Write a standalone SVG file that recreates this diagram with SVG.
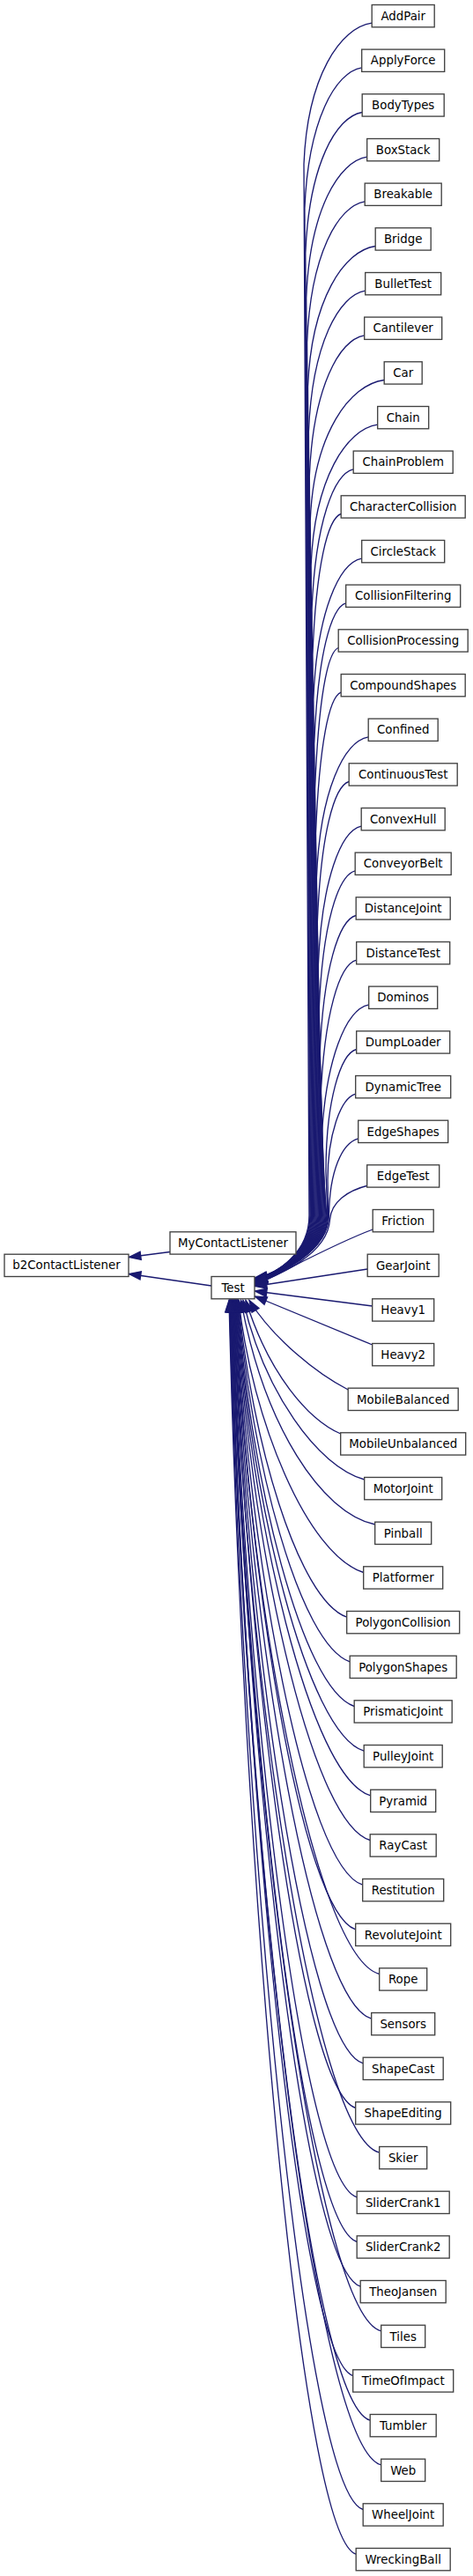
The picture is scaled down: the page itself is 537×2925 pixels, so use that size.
<svg xmlns="http://www.w3.org/2000/svg" width="537" height="2925" viewBox="0 0 537 2925">
<style>
.node rect{fill:#fff;stroke:#404040;stroke-width:1.33}
.node text{font-family:"DejaVu Sans","Liberation Sans",sans-serif;font-size:13.33px;text-anchor:middle;fill:#000}
.edges path{fill:none;stroke:#191970;stroke-width:1.33;marker-end:url(#arr)}
</style>
<defs>
<marker id="arr" markerUnits="userSpaceOnUse" markerWidth="16" markerHeight="12" refX="13.3" refY="4.65" orient="auto" overflow="visible"><path d="M0,0 L13.3,4.65 L0,9.3 Z" fill="#191970" stroke="#191970" stroke-width="1.33"/></marker>
</defs>
<rect width="537" height="2925" fill="#fff"/>
<g id="connectors" class="edges">
<path d="M193,1421.5 L146.5,1427.5"/>
<path d="M240,1460 L146.5,1446.5"/>
<path d="M422.2,26.2 C386.6,31.2 349,86.2 345,186.2 L351,1380 C351,1422 315,1447 289.5,1451"/>
<path d="M410.7,76.8 C380.6,81.8 349.9,136.8 345.9,236.8 L351.9,1380 C351.9,1422 315,1447 289.5,1451.3"/>
<path d="M411.2,127.5 C381.3,132.5 350.8,187.5 346.8,287.5 L352.8,1380 C352.8,1422 315,1447 289.5,1451.6"/>
<path d="M416.7,178.2 C384.7,183.2 351.7,238.2 347.7,338.2 L353.7,1380 C353.7,1422 315,1447 289.5,1451.8"/>
<path d="M414.2,228.8 C383.8,233.8 352.6,288.8 348.6,388.8 L354.6,1380 C354.6,1422 315,1447 289.5,1452.1"/>
<path d="M426.2,279.5 C390.8,284.5 353.5,339.5 349.5,439.5 L355.5,1380 C355.5,1422 315,1447 289.5,1452.4"/>
<path d="M414.7,330.2 C384.9,335.2 354.4,390.2 350.4,490.2 L356.4,1380 C356.4,1422 315,1447 289.5,1452.7"/>
<path d="M413.7,380.8 C384.7,385.8 355.3,440.8 351.3,540.8 L357.3,1380 C357.3,1422 315,1447 289.5,1453"/>
<path d="M436.2,431.5 C397.5,436.5 356.2,491.5 352.2,591.5 L358.2,1380 C358.2,1422 315,1447 289.5,1453.2"/>
<path d="M428.7,482.2 C393.8,487.2 357.1,542.2 353.1,642.2 L359.1,1380 C359.1,1422 315,1447 289.5,1453.5"/>
<path d="M401.2,532.8 C379.1,537.8 358,592.8 354,692.8 L360,1380 C360,1422 315,1447 289.5,1453.8"/>
<path d="M387.2,583.5 C371.8,588.5 358.9,643.5 354.9,743.5 L360.9,1380 C360.9,1422 315,1447 289.5,1454.1"/>
<path d="M410.7,634.2 C385.1,639.2 359.8,694.2 355.8,794.2 L361.8,1380 C361.8,1422 315,1447 289.5,1454.4"/>
<path d="M392.7,684.8 C375.6,689.8 360.7,744.8 356.7,844.8 L362.7,1380 C362.7,1422 315,1447 289.5,1454.6"/>
<path d="M384.2,735.5 C371.3,740.5 361.6,795.5 357.6,895.5 L363.6,1380 C363.6,1422 315,1447 289.5,1454.9"/>
<path d="M387.2,786.2 C373.4,791.2 362.5,846.2 358.5,946.2 L364.5,1380 C364.5,1422 315,1447 289.5,1455.2"/>
<path d="M418.2,836.8 C390.8,841.8 363.4,896.8 359.4,996.8 L365.4,1380 C365.4,1422 315,1447 289.5,1455.5"/>
<path d="M396.2,887.5 C379.1,892.5 364.3,947.5 360.3,1047.5 L366.3,1380 C366.3,1422 315,1447 289.5,1455.8"/>
<path d="M410.2,938.2 C387.2,943.2 365.2,998.2 361.2,1098.2 L367.2,1380 C367.2,1422 315,1447 289.5,1456"/>
<path d="M403.2,988.8 C383.8,993.8 366.1,1048.8 362.1,1148.8 L368.1,1380 C368.1,1422 315,1447 289.5,1456.3"/>
<path d="M404.2,1039.5 C384.8,1044.5 367,1099.5 363,1199.5 L369,1380 C369,1422 315,1447 289.5,1456.6"/>
<path d="M404.7,1090.2 C385.4,1095.2 367.9,1150.2 363.9,1250.2 L369.9,1380 C369.9,1422 315,1447 289.5,1456.9"/>
<path d="M418.7,1140.8 C393.5,1145.8 368.8,1200.8 364.8,1300.8 L370.8,1380 C370.8,1422 315,1447 289.5,1457.2"/>
<path d="M404.7,1191.5 C386.2,1196.5 370,1251.5 370,1330 L371.7,1380 C371.7,1422 315,1447 289.5,1457.4"/>
<path d="M403.7,1242.2 C386.1,1247.2 372,1290 372,1340 L372.6,1380 C372.6,1422 315,1447 289.5,1457.7"/>
<path d="M406.7,1292.9 C388.2,1297.9 374,1330 373.5,1380 C373.5,1422 315,1447 289.5,1458"/>
<path d="M418,1346 C394,1352 376,1365 374.5,1385 C372,1425 315,1448 289.5,1458.5"/>
<path d="M423.2,1396 C380,1412 330,1440 289.5,1459.3"/>
<path d="M417.2,1441 L289.5,1460.5"/>
<path d="M422.7,1483 L289.5,1466"/>
<path d="M422.7,1527 L289.5,1472"/>
<path d="M395.2,1578 C360,1560 310,1520 283,1476.5"/>
<path d="M386.7,1628 C350,1612 305,1560 279,1476.5"/>
<path d="M413.7,1680 C360,1665 300,1580 276,1476.5"/>
<path d="M425.7,1731 C365,1718 300,1620 273.5,1476.5"/>
<path d="M412.7,1785.5 C348.9,1765.5 286,1612.5 271,1476.5"/>
<path d="M393.7,1836.2 C338.3,1816.2 285.5,1634.8 270.5,1476.5"/>
<path d="M397.2,1886.9 C340,1866.9 285,1657.1 270,1476.5"/>
<path d="M402.2,1937.5 C342.5,1917.5 284.5,1679.3 269.5,1476.5"/>
<path d="M413.2,1988.2 C348.3,1968.2 284,1701.6 269,1476.5"/>
<path d="M420.7,2038.9 C352.2,2018.9 283.5,1724 268.5,1476.5"/>
<path d="M420.2,2089.5 C351.7,2069.5 283,1746.2 268,1476.5"/>
<path d="M411.7,2140.2 C346.8,2120.2 282.5,1768.5 267.5,1476.5"/>
<path d="M403.7,2190.9 C342.2,2170.9 282,1790.8 267,1476.5"/>
<path d="M430.7,2241.5 C356.8,2221.5 281.5,1813.1 266.5,1476.5"/>
<path d="M421.7,2292.2 C351.6,2272.2 281,1835.4 266,1476.5"/>
<path d="M412.2,2342.9 C346.2,2322.9 280.5,1857.7 265.5,1476.5"/>
<path d="M403.7,2393.5 C341.3,2373.5 280,1880 265,1476.5"/>
<path d="M430.7,2444.2 C355.9,2424.2 279.5,1902.3 264.5,1476.5"/>
<path d="M405.2,2494.9 C341.7,2474.9 279,1924.6 264,1476.5"/>
<path d="M405.2,2545.5 C341.4,2525.5 278.5,1946.9 263.5,1476.5"/>
<path d="M409.2,2596.2 C343.4,2576.2 278,1969.2 263,1476.5"/>
<path d="M432.7,2646.9 C356.1,2626.9 277.5,1991.5 262.5,1476.5"/>
<path d="M400.7,2697.5 C338.3,2677.5 277,2013.7 262,1476.5"/>
<path d="M420.2,2748.2 C348.8,2728.2 276.5,2036 261.5,1476.5"/>
<path d="M432.7,2798.9 C355.4,2778.9 276,2058.4 261,1476.5"/>
<path d="M412.2,2849.5 C343.9,2829.5 275.5,2080.6 260.5,1476.5"/>
<path d="M404.2,2900.2 C339.3,2880.2 275,2102.9 260,1476.5"/>
</g>
<g id="b2ContactListener" class="node"><rect x="5" y="1424.2" width="141" height="25.3"/><text x="75.5" y="1441.4">b2ContactListener</text></g>
<g id="MyContactListener" class="node"><rect x="193" y="1398.8" width="143" height="25.3"/><text x="264.5" y="1416.1">MyContactListener</text></g>
<g id="Test" class="node"><rect x="240" y="1449.5" width="49" height="25.3"/><text x="264.5" y="1466.8">Test</text></g>
<g id="AddPair" class="node"><rect x="422.2" y="5.5" width="71" height="25.3"/><text x="457.7" y="22.8">AddPair</text></g>
<g id="ApplyForce" class="node"><rect x="410.7" y="56.1" width="94" height="25.3"/><text x="457.7" y="73.4">ApplyForce</text></g>
<g id="BodyTypes" class="node"><rect x="411.2" y="106.8" width="93" height="25.3"/><text x="457.7" y="124.1">BodyTypes</text></g>
<g id="BoxStack" class="node"><rect x="416.7" y="157.5" width="82" height="25.3"/><text x="457.7" y="174.8">BoxStack</text></g>
<g id="Breakable" class="node"><rect x="414.2" y="208.1" width="87" height="25.3"/><text x="457.7" y="225.4">Breakable</text></g>
<g id="Bridge" class="node"><rect x="426.2" y="258.8" width="63" height="25.3"/><text x="457.7" y="276.1">Bridge</text></g>
<g id="BulletTest" class="node"><rect x="414.7" y="309.5" width="86" height="25.3"/><text x="457.7" y="326.8">BulletTest</text></g>
<g id="Cantilever" class="node"><rect x="413.7" y="360.1" width="88" height="25.3"/><text x="457.7" y="377.4">Cantilever</text></g>
<g id="Car" class="node"><rect x="436.2" y="410.8" width="43" height="25.3"/><text x="457.7" y="428.1">Car</text></g>
<g id="Chain" class="node"><rect x="428.7" y="461.5" width="58" height="25.3"/><text x="457.7" y="478.8">Chain</text></g>
<g id="ChainProblem" class="node"><rect x="401.2" y="512.1" width="113" height="25.3"/><text x="457.7" y="529.4">ChainProblem</text></g>
<g id="CharacterCollision" class="node"><rect x="387.2" y="562.8" width="141" height="25.3"/><text x="457.7" y="580.1">CharacterCollision</text></g>
<g id="CircleStack" class="node"><rect x="410.7" y="613.5" width="94" height="25.3"/><text x="457.7" y="630.8">CircleStack</text></g>
<g id="CollisionFiltering" class="node"><rect x="392.7" y="664.1" width="130" height="25.3"/><text x="457.7" y="681.4">CollisionFiltering</text></g>
<g id="CollisionProcessing" class="node"><rect x="384.2" y="714.8" width="147" height="25.3"/><text x="457.7" y="732.1">CollisionProcessing</text></g>
<g id="CompoundShapes" class="node"><rect x="387.2" y="765.5" width="141" height="25.3"/><text x="457.7" y="782.8">CompoundShapes</text></g>
<g id="Confined" class="node"><rect x="418.2" y="816.1" width="79" height="25.3"/><text x="457.7" y="833.4">Confined</text></g>
<g id="ContinuousTest" class="node"><rect x="396.2" y="866.8" width="123" height="25.3"/><text x="457.7" y="884.1">ContinuousTest</text></g>
<g id="ConvexHull" class="node"><rect x="410.2" y="917.5" width="95" height="25.3"/><text x="457.7" y="934.8">ConvexHull</text></g>
<g id="ConveyorBelt" class="node"><rect x="403.2" y="968.1" width="109" height="25.3"/><text x="457.7" y="985.4">ConveyorBelt</text></g>
<g id="DistanceJoint" class="node"><rect x="404.2" y="1018.8" width="107" height="25.3"/><text x="457.7" y="1036.1">DistanceJoint</text></g>
<g id="DistanceTest" class="node"><rect x="404.7" y="1069.5" width="106" height="25.3"/><text x="457.7" y="1086.8">DistanceTest</text></g>
<g id="Dominos" class="node"><rect x="418.7" y="1120.1" width="78" height="25.3"/><text x="457.7" y="1137.4">Dominos</text></g>
<g id="DumpLoader" class="node"><rect x="404.7" y="1170.8" width="106" height="25.3"/><text x="457.7" y="1188.1">DumpLoader</text></g>
<g id="DynamicTree" class="node"><rect x="403.7" y="1221.5" width="108" height="25.3"/><text x="457.7" y="1238.8">DynamicTree</text></g>
<g id="EdgeShapes" class="node"><rect x="406.7" y="1272.2" width="102" height="25.3"/><text x="457.7" y="1289.5">EdgeShapes</text></g>
<g id="EdgeTest" class="node"><rect x="416.7" y="1322.8" width="82" height="25.3"/><text x="457.7" y="1340.1">EdgeTest</text></g>
<g id="Friction" class="node"><rect x="423.2" y="1373.5" width="69" height="25.3"/><text x="457.7" y="1390.8">Friction</text></g>
<g id="GearJoint" class="node"><rect x="417.2" y="1424.2" width="81" height="25.3"/><text x="457.7" y="1441.5">GearJoint</text></g>
<g id="Heavy1" class="node"><rect x="422.7" y="1474.8" width="70" height="25.3"/><text x="457.7" y="1492.1">Heavy1</text></g>
<g id="Heavy2" class="node"><rect x="422.7" y="1525.5" width="70" height="25.3"/><text x="457.7" y="1542.8">Heavy2</text></g>
<g id="MobileBalanced" class="node"><rect x="395.2" y="1576.2" width="125" height="25.3"/><text x="457.7" y="1593.5">MobileBalanced</text></g>
<g id="MobileUnbalanced" class="node"><rect x="386.7" y="1626.8" width="142" height="25.3"/><text x="457.7" y="1644.1">MobileUnbalanced</text></g>
<g id="MotorJoint" class="node"><rect x="413.7" y="1677.5" width="88" height="25.3"/><text x="457.7" y="1694.8">MotorJoint</text></g>
<g id="Pinball" class="node"><rect x="425.7" y="1728.2" width="64" height="25.3"/><text x="457.7" y="1745.5">Pinball</text></g>
<g id="Platformer" class="node"><rect x="412.7" y="1778.8" width="90" height="25.3"/><text x="457.7" y="1796.1">Platformer</text></g>
<g id="PolygonCollision" class="node"><rect x="393.7" y="1829.5" width="128" height="25.3"/><text x="457.7" y="1846.8">PolygonCollision</text></g>
<g id="PolygonShapes" class="node"><rect x="397.2" y="1880.2" width="121" height="25.3"/><text x="457.7" y="1897.5">PolygonShapes</text></g>
<g id="PrismaticJoint" class="node"><rect x="402.2" y="1930.8" width="111" height="25.3"/><text x="457.7" y="1948.1">PrismaticJoint</text></g>
<g id="PulleyJoint" class="node"><rect x="413.2" y="1981.5" width="89" height="25.3"/><text x="457.7" y="1998.8">PulleyJoint</text></g>
<g id="Pyramid" class="node"><rect x="420.7" y="2032.2" width="74" height="25.3"/><text x="457.7" y="2049.5">Pyramid</text></g>
<g id="RayCast" class="node"><rect x="420.2" y="2082.8" width="75" height="25.3"/><text x="457.7" y="2100.1">RayCast</text></g>
<g id="Restitution" class="node"><rect x="411.7" y="2133.5" width="92" height="25.3"/><text x="457.7" y="2150.8">Restitution</text></g>
<g id="RevoluteJoint" class="node"><rect x="403.7" y="2184.2" width="108" height="25.3"/><text x="457.7" y="2201.5">RevoluteJoint</text></g>
<g id="Rope" class="node"><rect x="430.7" y="2234.8" width="54" height="25.3"/><text x="457.7" y="2252.1">Rope</text></g>
<g id="Sensors" class="node"><rect x="421.7" y="2285.5" width="72" height="25.3"/><text x="457.7" y="2302.8">Sensors</text></g>
<g id="ShapeCast" class="node"><rect x="412.2" y="2336.2" width="91" height="25.3"/><text x="457.7" y="2353.5">ShapeCast</text></g>
<g id="ShapeEditing" class="node"><rect x="403.7" y="2386.8" width="108" height="25.3"/><text x="457.7" y="2404.1">ShapeEditing</text></g>
<g id="Skier" class="node"><rect x="430.7" y="2437.5" width="54" height="25.3"/><text x="457.7" y="2454.8">Skier</text></g>
<g id="SliderCrank1" class="node"><rect x="405.2" y="2488.2" width="105" height="25.3"/><text x="457.7" y="2505.5">SliderCrank1</text></g>
<g id="SliderCrank2" class="node"><rect x="405.2" y="2538.8" width="105" height="25.3"/><text x="457.7" y="2556.1">SliderCrank2</text></g>
<g id="TheoJansen" class="node"><rect x="409.2" y="2589.5" width="97" height="25.3"/><text x="457.7" y="2606.8">TheoJansen</text></g>
<g id="Tiles" class="node"><rect x="432.7" y="2640.2" width="50" height="25.3"/><text x="457.7" y="2657.5">Tiles</text></g>
<g id="TimeOfImpact" class="node"><rect x="400.7" y="2690.8" width="114" height="25.3"/><text x="457.7" y="2708.1">TimeOfImpact</text></g>
<g id="Tumbler" class="node"><rect x="420.2" y="2741.5" width="75" height="25.3"/><text x="457.7" y="2758.8">Tumbler</text></g>
<g id="Web" class="node"><rect x="432.7" y="2792.2" width="50" height="25.3"/><text x="457.7" y="2809.5">Web</text></g>
<g id="WheelJoint" class="node"><rect x="412.2" y="2842.8" width="91" height="25.3"/><text x="457.7" y="2860.1">WheelJoint</text></g>
<g id="WreckingBall" class="node"><rect x="404.2" y="2893.5" width="107" height="25.3"/><text x="457.7" y="2910.8">WreckingBall</text></g>
</svg>
